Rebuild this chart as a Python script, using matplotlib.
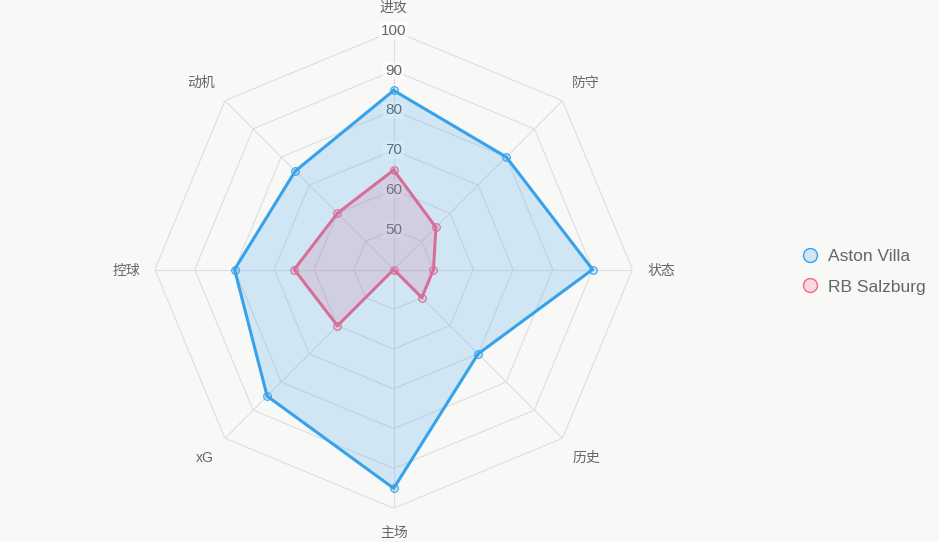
import numpy as np
import matplotlib
matplotlib.use('Agg')
import matplotlib.pyplot as plt
from matplotlib.lines import Line2D
from matplotlib.colors import to_rgba

plt.rcParams['font.family'] = ['Liberation Sans', 'Noto Sans CJK SC']

# data
categories = ['进攻', '防守', '状态', '历史', '主场', 'xG', '控球', '动机']
aston_villa = [85, 80, 90, 70, 95, 85, 80, 75]
rb_salzburg = [65, 55, 50, 50, 40, 60, 65, 60]
series_names = ['Aston Villa', 'RB Salzburg']
tick_values = [50, 60, 70, 80, 90, 100]
r_min, r_max = 40, 100

bg = '#f8f8f7'
grid_c = '#dedede'
text_c = '#666666'
villa_c = '#36a2eb'
salz_c = '#ff6384'

# polar area centred at (cx, cy) px
cx, cy, rad = 393.7, 269.5, 238.7
W, H = 939, 542
fig = plt.figure(figsize=(W / 100, H / 100), dpi=100, facecolor=bg)
ax = fig.add_axes([(cx - rad) / W, (H - cy - rad) / H, 2 * rad / W, 2 * rad / H],
                  projection='polar')
ax.set_facecolor('none')
ax.set_theta_zero_location('N')
ax.set_theta_direction(-1)
ax.set_ylim(r_min, r_max)
ax.grid(False)
ax.spines['polar'].set_visible(False)
ax.set_xticks([])
ax.set_yticks([])

angles = np.linspace(0, 2 * np.pi, len(categories), endpoint=False)
closed = np.append(angles, angles[0])

# polygon grid + spokes
for v in tick_values:
    ax.plot(closed, [v] * len(closed), color=grid_c, lw=0.8, zorder=1)
for a in angles:
    ax.plot([a, a], [r_min, r_max], color=grid_c, lw=0.8, zorder=1)

# tick labels along the top spoke
for v in tick_values:
    ax.text(0, v, str(v), ha='center', va='center', fontsize=11, color=text_c,
            bbox=dict(boxstyle='square,pad=0.12', fc='white', ec='none', alpha=0.6),
            zorder=2)

# point labels (pixel offsets from the outer vertex)
offsets = [(0, 22.8), (23.5, 17.7), (29, -1), (24, -19.7),
           (0, -24.7), (-20, -19.5), (-28.5, -1), (-23.5, 17.7)]
for a, lab, off in zip(angles, categories, offsets):
    ax.annotate(lab, xy=(a, r_max), xytext=off, textcoords='offset pixels',
                ha='center', va='center', fontsize=10, color=text_c,
                annotation_clip=False)


def draw(vals, c, z):
    v = np.append(vals, vals[0])
    ax.fill(closed, v, color=c, alpha=0.2, lw=0, zorder=z)
    ax.plot(closed, v, color=c, lw=2.2, zorder=z + 0.1)
    ax.plot(angles, vals, 'o', ms=5.5, mfc=to_rgba(c, 0.2), mec=c, mew=0.8,
            zorder=z + 0.2)


# first dataset drawn on top
draw(rb_salzburg, salz_c, 3)
draw(aston_villa, villa_c, 4)

handles = [Line2D([], [], ls='none', marker='o', ms=10, mfc=to_rgba(c, 0.2), mec=c, mew=1)
           for c in (villa_c, salz_c)]
fig.legend(handles, series_names, loc='center left', bbox_to_anchor=(0.846, 0.499),
           frameon=False, fontsize=12.5, labelcolor=text_c, handlelength=1,
           handletextpad=0.55, labelspacing=0.9, borderaxespad=0)

fig.savefig('out.png', dpi=100, facecolor=bg)
